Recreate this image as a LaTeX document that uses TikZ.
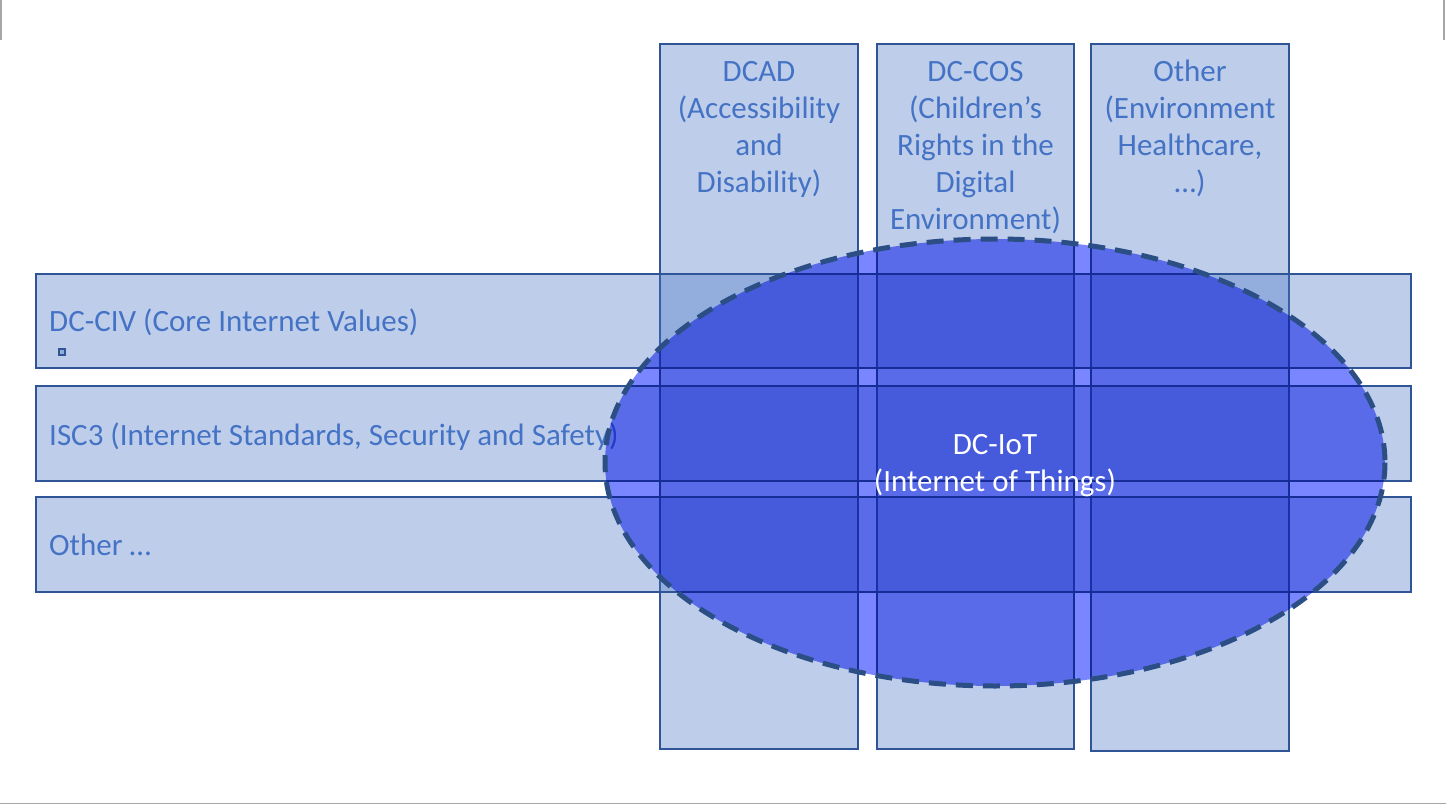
\documentclass[tikz,border=0pt]{standalone}
\usepackage{fontspec}
\setmainfont{Carlito}
\usetikzlibrary{shapes.geometric}
\definecolor{boxfill}{HTML}{4472C4}
\definecolor{boxline}{HTML}{2F5597}
\definecolor{labeltext}{HTML}{4472C4}
\definecolor{iotfill}{HTML}{7A86FF}
\definecolor{iotline}{HTML}{2B4F85}
\definecolor{edgegray}{HTML}{A6A6A6}
\tikzset{
  topicbox/.style={draw=boxline, line width=1.6pt, fill=boxfill, fill opacity=0.35, inner sep=0pt, outer sep=0pt},
  rowtext/.style={text=labeltext, font=\fontsize{31}{37}\selectfont, inner sep=0pt},
  coltext/.style={text=labeltext, font=\fontsize{31}{37}\selectfont, align=center, inner sep=0pt, anchor=north},
  iotshape/.style={ellipse, fill=iotfill, inner sep=0pt, outer sep=0pt},
  iotborder/.style={draw=iotline, line width=5pt, dash pattern=on 17pt off 10pt},
  iottext/.style={text=white, font=\fontsize{31}{37}\selectfont, align=center, inner sep=0pt, anchor=north},
  marker/.style={draw=boxline, line width=1.2pt, fill=boxfill, fill opacity=0.35, minimum size=6pt, inner sep=0pt}
}
\begin{document}
\begin{tikzpicture}[x=1pt, y=-1pt]
\useasboundingbox (0,0) rectangle (1446,805);
% slide edge lines
\draw[edgegray, line width=1.5pt] (0.75,0) -- (0.75,40);
\draw[edgegray, line width=1.5pt] (1444,0) -- (1444,40);
\draw[edgegray, line width=1.5pt] (0,803.5) -- (1446,803.5);
% columns
\node[topicbox, anchor=north west, minimum width=198pt, minimum height=705pt] (dcad) at (660,44) {};
\node[topicbox, anchor=north west, minimum width=197pt, minimum height=705pt] (dccos) at (877,44) {};
\node[topicbox, anchor=north west, minimum width=198pt, minimum height=707pt] (othcol) at (1091,44) {};
% rows
\node[topicbox, anchor=north west, minimum width=1375pt, minimum height=94pt] (dcciv) at (36,274) {};
\node[topicbox, anchor=north west, minimum width=1375pt, minimum height=95pt] (isc3) at (36,386) {};
\node[topicbox, anchor=north west, minimum width=1375pt, minimum height=95pt] (othrow) at (36,497) {};
% column labels
\node[coltext] (dcadt) at (759,56) {\rule{0pt}{25pt}DCAD\\(Accessibility\\and\\Disability)};
\node[coltext] (dccost) at (975.5,56) {\rule{0pt}{25pt}DC-COS\\(Children’s\\Rights in the\\Digital\\Environment)};
\node[coltext] (othcolt) at (1190,56) {\rule{0pt}{25pt}Other\\(Environment\\Healthcare,\\…)};
% row labels
\node[rowtext, anchor=base west] (dccivt) at (49,331) {DC-CIV (Core Internet Values)};
\node[rowtext, anchor=base west] (isc3t) at (49,445) {ISC3 (Internet Standards, Security and Safety)};
\node[rowtext, anchor=base west] (othrowt) at (49,555) {Other …};
\node[marker] (mark) at (62,352) {};
% IoT ellipse
\begin{scope}[blend mode=multiply]
\node[iotshape, minimum width=780pt, minimum height=447pt] (iot) at (995,462.5) {};
\end{scope}
\draw[iotborder] (iot.center) ellipse [x radius=390, y radius=223.5];
\node[iottext] (iott) at (995,429) {\rule{0pt}{25pt}DC-IoT\\(Internet of Things)};
\end{tikzpicture}
\end{document}
